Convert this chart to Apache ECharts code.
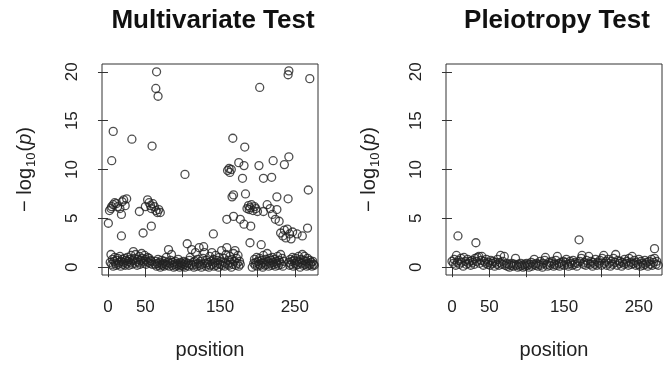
<!DOCTYPE html>
<html>
<head>
<meta charset="utf-8">
<script src="https://cdn.jsdelivr.net/npm/echarts@6.0.0/dist/echarts.min.js"></script>
<style>
  html, body { margin: 0; padding: 0; background: #fff; }
  #chart { width: 670px; height: 365px; }
</style>
</head>
<body>
<div id="chart"></div>
<script>
// tick positions / labels (R drops 100 and 200 labels because they overlap)
const xTicks = [0, 50, 100, 150, 200, 250]
const xLabels = [0, 50, 150, 250]
const yTicks = [0, 5, 10, 15, 20]
const titles = ['Multivariate Test', 'Pleiotropy Test']

// multivariate test: [position, -log10(p)]
const multiPoints = [
  [65, 20.0], [64, 18.3], [67, 17.5], [7, 13.9], [32, 13.1], [59, 12.4], [5, 10.9], [103, 9.5],
  [167, 13.2], [242, 20.1], [241, 19.7], [270, 19.3], [203, 18.4], [183, 12.3], [242, 11.3], [221, 10.9],
  [236, 10.5], [202, 10.4], [175, 10.7], [182, 10.4], [160, 9.9], [162, 10.1], [163, 9.7], [165, 10.0],
  [180, 9.1], [208, 9.1], [219, 9.2], [268, 7.9], [166, 7.2], [168, 7.4], [184, 7.5], [226, 7.2], [241, 7.0],
  [0.5, 4.5], [2, 5.8], [4, 6.0], [5, 6.2], [7, 6.4], [9, 6.6], [11, 6.5], [13, 6.2], [16, 6.0], [18, 5.4],
  [19, 6.7], [21, 6.9], [23, 6.3], [25, 7.0], [18, 3.2], [42, 5.7],
  [50, 6.2], [53, 6.9], [55, 6.6], [57, 6.3], [58, 6.0], [60, 6.5], [62, 6.2], [64, 5.8], [66, 5.6],
  [68, 5.9], [70, 5.6], [47, 3.5], [58, 4.2],
  [159, 4.9], [141, 3.4], [106, 2.4], [186, 6.0], [188, 6.3], [190, 6.1], [192, 6.4], [194, 5.8], [196, 6.2],
  [198, 6.0], [200, 5.7], [189, 5.9], [213, 6.4], [217, 6.0], [208, 5.7], [226, 5.9], [168, 5.2], [177, 4.9],
  [182, 4.4], [191, 4.2], [220, 5.4], [224, 4.9], [229, 4.7], [231, 3.5], [234, 3.2], [236, 3.8], [238, 3.0],
  [240, 3.9], [243, 3.4], [245, 2.9], [247, 3.6], [253, 3.4], [260, 3.2], [267, 4.0], [190, 2.5], [205, 2.3],
  [3, 0.5], [4, 1.3], [5, 0.3], [6, 0.8], [7, 0.1], [8, 0.6], [9, 1.0], [10, 0.4], [11, 0.2], [12, 0.7],
  [13, 0.9], [14, 0.3], [15, 0.5], [16, 1.1], [17, 0.1], [18, 0.6], [19, 0.8], [20, 0.3], [21, 0.5], [22, 0.9],
  [23, 0.2], [24, 0.7], [25, 0.4], [26, 1.0], [27, 0.6], [28, 0.2], [29, 0.8], [30, 0.5], [31, 1.2], [32, 0.3],
  [33, 0.7], [34, 1.6], [35, 0.9], [36, 0.4], [37, 1.3], [38, 0.6], [39, 0.2], [40, 0.8], [41, 0.5], [42, 1.1],
  [43, 0.3], [44, 0.7], [45, 1.4], [46, 0.9], [47, 0.4], [48, 0.6], [49, 1.2], [50, 0.8], [51, 0.3], [52, 0.6],
  [53, 1.0], [54, 0.5], [55, 0.9], [56, 0.4], [57, 0.7], [58, 0.6], [59, 0.3],
  [63, 0.3], [64, 0.6], [65, 0.1], [66, 0.4], [67, 0.8], [68, 0.2], [69, 0.5], [70, 0.0], [71, 0.3], [72, 0.7],
  [73, 0.2], [74, 0.4], [75, 0.1], [76, 0.6], [77, 0.3], [78, 1.0], [79, 0.2], [80, 0.5], [81, 1.8], [82, 0.1],
  [83, 0.4], [84, 0.7], [85, 1.3], [86, 0.2], [87, 0.5], [88, 0.0], [89, 0.3], [90, 0.6], [91, 0.1], [92, 0.4],
  [93, 0.2], [94, 0.8], [95, 0.3], [96, 0.0], [97, 0.5], [98, 0.2], [99, 0.4], [100, 0.1], [101, 0.6], [102, 0.3],
  [103, 0.0], [104, 0.5], [105, 0.2], [107, 0.4], [108, 0.1], [109, 0.7], [110, 1.0], [111, 0.3], [112, 1.8],
  [113, 0.2], [114, 0.5], [115, 0.0], [116, 0.6], [117, 1.5], [118, 0.3], [119, 0.1], [120, 0.8], [121, 0.4],
  [122, 2.0], [123, 0.2], [124, 0.6], [125, 0.0], [126, 0.3], [127, 0.9], [128, 2.1], [129, 1.5], [130, 0.4],
  [131, 0.1], [132, 0.7], [133, 0.3], [134, 0.5], [135, 0.0], [136, 1.1], [137, 0.2], [138, 0.6], [139, 1.5],
  [140, 0.3], [141, 0.8], [142, 0.1], [143, 0.5], [144, 1.2], [145, 0.2], [146, 0.7], [147, 0.4], [148, 0.0],
  [149, 1.0], [150, 0.3], [151, 0.6], [152, 1.7], [153, 0.2], [154, 0.5], [155, 0.9], [156, 0.1], [157, 0.4],
  [158, 1.3], [159, 2.0], [160, 0.3], [161, 0.7], [162, 0.2], [163, 1.1], [164, 0.5], [165, 0.0], [166, 0.8],
  [167, 0.3], [168, 1.4], [169, 0.6], [170, 1.7], [171, 0.2], [172, 0.9], [173, 0.4], [174, 1.2], [175, 0.1],
  [176, 0.6], [177, 0.3], [193, 0.0],
  [195, 0.4], [196, 0.8], [197, 0.2], [198, 0.5], [199, 1.0], [200, 0.1], [201, 0.6], [202, 0.3], [203, 0.9],
  [204, 0.2], [205, 0.7], [206, 0.4], [207, 0.0], [208, 1.2], [209, 0.5], [210, 0.2], [211, 0.8], [212, 0.3],
  [213, 1.4], [214, 0.6], [215, 0.1], [216, 0.9], [217, 0.4], [218, 0.7], [219, 0.2], [220, 1.0], [221, 0.5],
  [222, 0.3], [223, 0.8], [224, 0.1], [225, 0.6], [226, 0.4], [227, 1.1], [228, 0.2], [229, 0.7], [230, 0.5],
  [231, 1.3], [232, 0.3], [233, 0.9], [234, 0.1], [235, 0.6],
  [242, 0.5], [243, 0.2], [244, 0.8], [245, 0.3], [246, 0.6], [247, 1.0], [248, 0.1], [249, 0.7], [250, 0.4],
  [251, 0.9], [252, 0.2], [253, 0.6], [254, 0.3], [255, 1.1], [256, 0.5], [257, 0.0], [258, 0.8], [259, 0.4],
  [260, 1.3], [261, 0.2], [262, 0.7], [263, 1.1], [264, 0.3], [265, 0.6], [266, 0.1], [267, 0.9], [268, 0.4],
  [269, 0.2], [270, 0.7], [271, 0.3], [272, 0.5], [273, 0.1], [274, 0.6], [275, 0.3], [276, 0.2]
]

// pleiotropy test: [position, -log10(p)]
const pleioPoints = [
  [8, 3.2], [32, 2.5], [170, 2.8], [271, 1.9],
  [0, 0.6], [2, 0.4], [3, 0.8], [5, 0.2], [6, 1.2], [7, 0.5], [9, 0.7], [10, 0.3], [12, 0.9], [13, 0.5],
  [15, 0.1], [16, 1.0], [18, 0.6], [19, 0.3], [21, 0.8], [22, 0.4], [24, 0.6], [25, 0.2], [27, 0.7], [28, 0.5],
  [30, 0.3], [31, 0.9], [33, 0.6], [34, 1.0], [36, 1.1], [37, 0.4], [39, 0.7], [40, 1.1], [42, 0.2], [43, 0.6],
  [45, 0.4], [46, 0.8], [48, 0.3], [49, 0.5], [51, 0.2], [52, 0.7], [54, 0.4], [55, 0.6], [57, 0.1], [58, 0.5],
  [60, 0.3], [61, 0.8], [63, 0.2], [64, 0.5], [65, 1.2], [67, 0.3], [68, 0.6], [70, 1.1], [71, 0.2], [73, 0.4],
  [74, 0.1], [76, 0.3], [77, 0.0], [79, 0.2], [80, 0.4], [82, 0.1], [83, 0.3], [85, 0.9], [86, 0.2], [88, 0.0],
  [89, 0.3], [91, 0.1], [92, 0.4], [94, 0.2], [95, 0.0], [97, 0.3], [98, 0.1], [100, 0.4], [101, 0.2], [103, 0.0],
  [104, 0.3], [106, 0.5], [107, 0.1], [109, 0.3], [110, 0.8], [112, 0.2], [113, 0.4], [115, 0.1], [116, 0.3],
  [118, 0.6], [119, 0.2], [121, 0.0], [122, 0.4], [124, 0.7], [125, 1.0], [127, 0.3], [128, 0.1], [130, 0.5],
  [131, 0.2], [133, 0.4], [134, 0.6], [136, 0.1], [137, 0.3], [139, 0.7], [140, 0.2], [141, 1.1], [143, 0.4],
  [144, 0.1], [146, 0.5], [147, 0.3], [149, 0.6],
  [150, 0.2], [152, 0.5], [153, 0.8], [155, 0.3], [156, 0.1], [158, 0.6], [159, 0.4], [161, 0.2], [162, 0.7],
  [164, 0.3], [165, 0.5], [167, 0.1], [168, 0.4], [171, 0.6], [173, 0.9], [174, 1.2], [176, 0.3], [177, 0.5],
  [179, 0.2], [180, 0.7], [182, 0.4], [183, 1.1], [185, 0.3], [186, 0.6], [188, 0.1], [189, 0.5], [191, 0.3],
  [192, 0.8], [194, 0.2], [195, 0.5], [197, 0.4], [198, 0.7], [200, 0.2], [201, 0.9], [203, 1.2], [204, 0.4],
  [206, 0.6], [207, 0.2], [209, 0.8], [210, 0.4], [212, 0.1], [213, 0.6], [215, 0.3], [216, 0.9], [218, 0.5],
  [219, 1.3], [221, 0.2], [222, 0.7], [224, 0.4], [225, 0.6], [227, 0.1], [228, 0.5], [230, 0.3], [231, 0.8],
  [233, 0.4], [234, 0.6], [236, 0.2], [237, 0.9], [239, 0.5], [240, 0.3], [241, 1.1], [243, 0.4], [244, 0.7],
  [246, 0.2], [247, 0.5], [249, 0.3], [250, 0.8], [252, 0.1], [253, 0.6], [255, 0.4], [256, 0.2], [258, 0.7],
  [259, 0.3], [261, 0.5], [262, 0.1], [264, 0.6], [265, 0.3], [267, 0.8], [268, 0.2], [270, 0.5], [271, 0.9],
  [273, 0.3], [274, 0.6], [276, 0.2]
]

const font = 'Liberation Sans, Arial, Helvetica, sans-serif'
const ink = '#222'
const gridLefts = [102, 446]

const chart = echarts.init(document.getElementById('chart'))

const tickStyle = { show: true, inside: false, length: 10, lineStyle: { color: '#333', width: 1 } }

chart.setOption({
  animation: false,
  title: titles.map((t, i) => ({
    text: t,
    left: gridLefts[i] + 106,
    top: 3,
    textAlign: 'center',
    textStyle: { fontFamily: font, fontSize: 26, fontWeight: 'bold', color: '#111' }
  })),
  grid: gridLefts.map(l => ({
    left: l,
    top: 64,
    width: 216,
    height: 216,
    show: true,
    borderColor: '#333',
    borderWidth: 1,
    backgroundColor: 'transparent'
  })),
  xAxis: [0, 1].map(i => ({
    gridIndex: i,
    type: 'value',
    min: -8,
    max: 281,
    splitLine: { show: false },
    axisLine: { show: false },
    axisTick: Object.assign({ customValues: xTicks }, tickStyle),
    axisLabel: {
      customValues: xLabels,
      margin: 24,
      fontFamily: font,
      fontSize: 17,
      color: ink
    },
    name: 'position',
    nameLocation: 'middle',
    nameGap: 65,
    nameTextStyle: { fontFamily: font, fontSize: 20, color: ink }
  })),
  yAxis: [0, 1].map(i => ({
    gridIndex: i,
    type: 'value',
    min: -0.8,
    max: 20.8,
    splitLine: { show: false },
    axisLine: { show: false },
    axisTick: Object.assign({ customValues: yTicks }, tickStyle),
    axisLabel: {
      customValues: yTicks,
      rotate: 90,
      margin: 21,
      fontFamily: font,
      fontSize: 17,
      color: ink
    },
    name: '{a|\u2212 log}{s|10}{a|(}{p|p}{a|)}',
    nameLocation: 'middle',
    nameGap: 64,
    nameTextStyle: {
      rich: {
        a: { fontFamily: font, fontSize: 20, color: ink, lineHeight: 26, verticalAlign: 'middle' },
        s: { fontFamily: font, fontSize: 13, color: ink, lineHeight: 26, verticalAlign: 'bottom', padding: [10, 1, 0, 1] },
        p: { fontFamily: font, fontSize: 20, color: ink, fontStyle: 'italic', lineHeight: 26, verticalAlign: 'middle' }
      }
    }
  })),
  series: [multiPoints, pleioPoints].map((pts, i) => ({
    type: 'scatter',
    xAxisIndex: i,
    yAxisIndex: i,
    data: pts,
    symbol: 'circle',
    symbolSize: 8,
    itemStyle: { color: 'rgba(0,0,0,0)', borderColor: '#222', borderWidth: 1.3 }
  }))
})
</script>
</body>
</html>
